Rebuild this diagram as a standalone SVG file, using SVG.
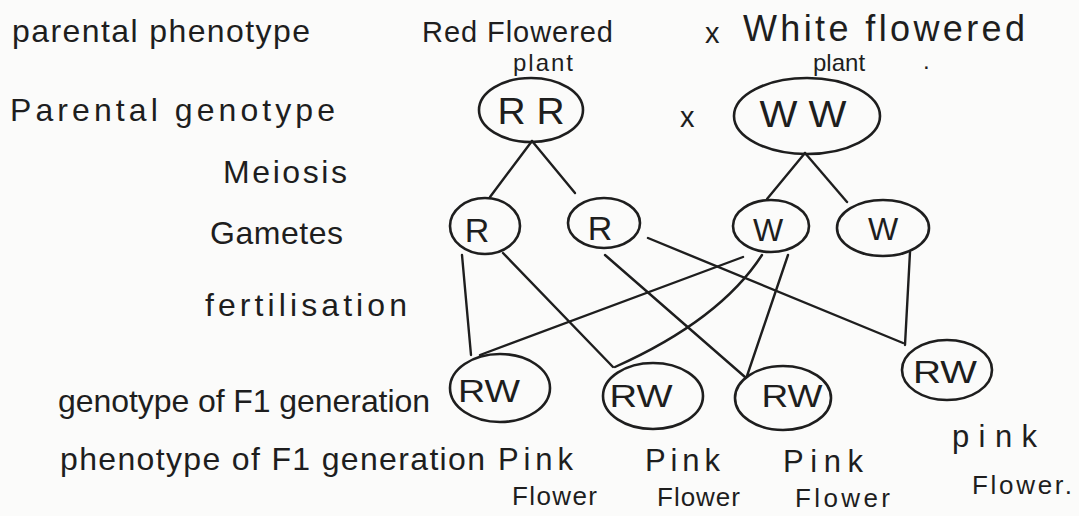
<svg xmlns="http://www.w3.org/2000/svg" width="1079" height="516" viewBox="0 0 1079 516">
<style>
.bg{fill:#fbfbfa}
.t{font-family:"Liberation Sans","DejaVu Sans",sans-serif;fill:#1e1e1e}
.lab{font-size:32px}
.top{font-size:29px}
.wf{font-size:36px}
.sm{font-size:24px}
.nd{font-size:36px;text-anchor:middle}
.g{font-size:34px;text-anchor:middle}
.f{font-size:32px;text-anchor:middle}
.ph{font-size:31px}
.fl{font-size:26px}
.o{fill:none;stroke:#1e1e1e;stroke-width:2.6}
.c{fill:none;stroke:#1e1e1e;stroke-width:2.4;stroke-linecap:round}
</style>
<rect class="bg" x="0" y="0" width="1079" height="516"/>

<g id="labels">
<text class="t lab" x="12" y="42" textLength="298" lengthAdjust="spacing">parental phenotype</text>
<text class="t lab" x="10" y="121" textLength="325" lengthAdjust="spacing">Parental genotype</text>
<text class="t lab" x="223" y="183" textLength="124" lengthAdjust="spacing">Meiosis</text>
<text class="t lab" x="210" y="244" textLength="133" lengthAdjust="spacing">Gametes</text>
<text class="t lab" x="205" y="316" textLength="202" lengthAdjust="spacing">fertilisation</text>
<text class="t lab" x="58" y="412" textLength="372" lengthAdjust="spacing">genotype of F1 generation</text>
<text class="t lab" x="60" y="470" textLength="425" lengthAdjust="spacing">phenotype of F1 generation</text>
<text class="t top" x="422" y="42" textLength="191" lengthAdjust="spacing">Red Flowered</text>
<text class="t sm" x="513" y="71" textLength="60" lengthAdjust="spacing">plant</text>
<text class="t top" x="705" y="43">x</text>
<text class="t wf" x="743" y="41" textLength="282" lengthAdjust="spacing">White flowered</text>
<text class="t sm" x="813" y="71">plant<tspan x="923" y="69">.</tspan></text>
<text class="t top" x="680" y="127">x</text>
</g>

<g id="connectors">
<line class="c" x1="532" y1="141" x2="490" y2="197"/>
<line class="c" x1="532" y1="141" x2="575" y2="193"/>
<line class="c" x1="805" y1="153" x2="767" y2="199"/>
<line class="c" x1="805" y1="153" x2="847" y2="202"/>
<line class="c" x1="462" y1="255" x2="471" y2="355"/>
<line class="c" x1="503" y1="253" x2="613" y2="367"/>
<line class="c" x1="605" y1="255" x2="745" y2="377"/>
<line class="c" x1="648" y1="238" x2="903" y2="343"/>
<line class="c" x1="743" y1="257" x2="480" y2="355"/>
<path class="c" d="M762,255 Q720,320 615,367"/>
<line class="c" x1="788" y1="255" x2="747" y2="376"/>
<line class="c" x1="910" y1="252" x2="905" y2="345"/>
</g>

<g id="node-RR">
<ellipse class="o" cx="531" cy="110" rx="52" ry="32"/>
<text class="t nd" x="531" y="124" textLength="67" lengthAdjust="spacingAndGlyphs">R R</text>
</g>
<g id="node-WW">
<ellipse class="o" cx="807" cy="116" rx="73" ry="38"/>
<text class="t nd" x="803" y="127" textLength="87" lengthAdjust="spacingAndGlyphs">W W</text>
</g>
<g id="node-R1">
<ellipse class="o" cx="485" cy="226" rx="35" ry="28"/>
<text class="t g" x="477" y="242">R</text>
</g>
<g id="node-R2">
<ellipse class="o" cx="604" cy="223" rx="36" ry="25"/>
<text class="t g" x="600" y="240">R</text>
</g>
<g id="node-W1">
<ellipse class="o" cx="771" cy="226" rx="38" ry="26"/>
<text class="t f" x="768" y="241">W</text>
</g>
<g id="node-W2">
<ellipse class="o" cx="883" cy="228" rx="46" ry="28"/>
<text class="t f" x="883" y="240">W</text>
</g>
<g id="node-RW1">
<ellipse class="o" cx="500" cy="388" rx="50" ry="34"/>
<text class="t f" x="489" y="402" textLength="62" lengthAdjust="spacingAndGlyphs">RW</text>
<text class="t ph" x="498" y="470" textLength="75" lengthAdjust="spacing">Pink</text>
<text class="t fl" x="512" y="505" textLength="85" lengthAdjust="spacing">Flower</text>
</g>
<g id="node-RW2">
<ellipse class="o" cx="653" cy="396" rx="50" ry="33"/>
<text class="t f" x="641" y="407" textLength="63" lengthAdjust="spacingAndGlyphs">RW</text>
<text class="t ph" x="645" y="471" textLength="75" lengthAdjust="spacing">Pink</text>
<text class="t fl" x="657" y="506" textLength="83" lengthAdjust="spacing">Flower</text>
</g>
<g id="node-RW3">
<ellipse class="o" cx="783" cy="398" rx="48" ry="32"/>
<text class="t f" x="792" y="407" textLength="61" lengthAdjust="spacingAndGlyphs">RW</text>
<text class="t ph" x="783" y="472" textLength="80" lengthAdjust="spacing">Pink</text>
<text class="t fl" x="795" y="507" textLength="95" lengthAdjust="spacing">Flower</text>
</g>
<g id="node-RW4">
<ellipse class="o" cx="947" cy="370" rx="45" ry="30"/>
<text class="t f" x="945" y="383" textLength="64" lengthAdjust="spacingAndGlyphs">RW</text>
<text class="t ph" x="952" y="447" textLength="85" lengthAdjust="spacing">pink</text>
<text class="t fl" x="972" y="494" textLength="100" lengthAdjust="spacing">Flower.</text>
</g>
</svg>
